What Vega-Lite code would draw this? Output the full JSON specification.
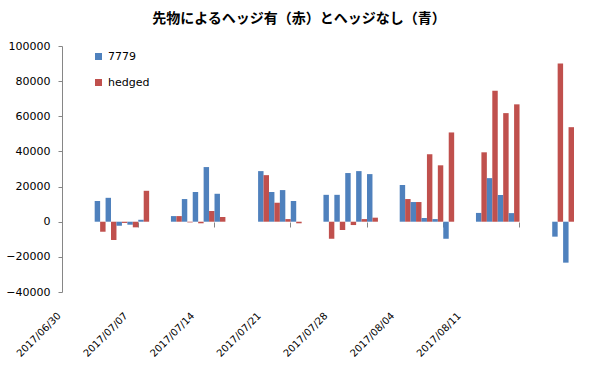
{
  "$schema": "https://vega.github.io/schema/vega-lite/v6.json",
  "width": 512,
  "height": 246,
  "autosize": {"type": "none"},
  "padding": {"left": 62, "top": 46, "right": 22, "bottom": 76},
  "background": "white",
  "title": {"text": "先物によるヘッジ有（赤）とヘッジなし（青）", "font": "Noto Sans CJK JP", "fontSize": 14, "fontWeight": "bold", "color": "black", "anchor": "middle", "dx": -19, "offset": 14},
  "layer": [
    {
      "data": {"values": [
        {"day": "2017-07-03", "series": "7779", "value": 11800}, {"day": "2017-07-03", "series": "hedged", "value": -5700},
        {"day": "2017-07-04", "series": "7779", "value": 13600}, {"day": "2017-07-04", "series": "hedged", "value": -10400},
        {"day": "2017-07-05", "series": "7779", "value": -2300}, {"day": "2017-07-05", "series": "hedged", "value": -700},
        {"day": "2017-07-06", "series": "7779", "value": -1700}, {"day": "2017-07-06", "series": "hedged", "value": -3200},
        {"day": "2017-07-07", "series": "7779", "value": 1100}, {"day": "2017-07-07", "series": "hedged", "value": 17600},
        {"day": "2017-07-10", "series": "7779", "value": 3200}, {"day": "2017-07-10", "series": "hedged", "value": 3200},
        {"day": "2017-07-11", "series": "7779", "value": 12900}, {"day": "2017-07-11", "series": "hedged", "value": -400},
        {"day": "2017-07-12", "series": "7779", "value": 16900}, {"day": "2017-07-12", "series": "hedged", "value": -900},
        {"day": "2017-07-13", "series": "7779", "value": 31100}, {"day": "2017-07-13", "series": "hedged", "value": 6100},
        {"day": "2017-07-14", "series": "7779", "value": 15900}, {"day": "2017-07-14", "series": "hedged", "value": 2700},
        {"day": "2017-07-18", "series": "7779", "value": 28800}, {"day": "2017-07-18", "series": "hedged", "value": 26500},
        {"day": "2017-07-19", "series": "7779", "value": 16900}, {"day": "2017-07-19", "series": "hedged", "value": 10800},
        {"day": "2017-07-20", "series": "7779", "value": 18000}, {"day": "2017-07-20", "series": "hedged", "value": 1500},
        {"day": "2017-07-21", "series": "7779", "value": 11800}, {"day": "2017-07-21", "series": "hedged", "value": -900},
        {"day": "2017-07-24", "series": "7779", "value": 15300}, {"day": "2017-07-24", "series": "hedged", "value": -9700},
        {"day": "2017-07-25", "series": "7779", "value": 15300}, {"day": "2017-07-25", "series": "hedged", "value": -4700},
        {"day": "2017-07-26", "series": "7779", "value": 27700}, {"day": "2017-07-26", "series": "hedged", "value": -1900},
        {"day": "2017-07-27", "series": "7779", "value": 28800}, {"day": "2017-07-27", "series": "hedged", "value": 1500},
        {"day": "2017-07-28", "series": "7779", "value": 27100}, {"day": "2017-07-28", "series": "hedged", "value": 2300},
        {"day": "2017-07-31", "series": "7779", "value": 20900}, {"day": "2017-07-31", "series": "hedged", "value": 12900},
        {"day": "2017-08-01", "series": "7779", "value": 11200}, {"day": "2017-08-01", "series": "hedged", "value": 11200},
        {"day": "2017-08-02", "series": "7779", "value": 2100}, {"day": "2017-08-02", "series": "hedged", "value": 38400},
        {"day": "2017-08-03", "series": "7779", "value": 1500}, {"day": "2017-08-03", "series": "hedged", "value": 32100},
        {"day": "2017-08-04", "series": "7779", "value": -9700}, {"day": "2017-08-04", "series": "hedged", "value": 50800},
        {"day": "2017-08-07", "series": "7779", "value": 5000}, {"day": "2017-08-07", "series": "hedged", "value": 39500},
        {"day": "2017-08-08", "series": "7779", "value": 24800}, {"day": "2017-08-08", "series": "hedged", "value": 74600},
        {"day": "2017-08-09", "series": "7779", "value": 15200}, {"day": "2017-08-09", "series": "hedged", "value": 61800},
        {"day": "2017-08-10", "series": "7779", "value": 4900}, {"day": "2017-08-10", "series": "hedged", "value": 66800},
        {"day": "2017-08-14", "series": "7779", "value": -8500}, {"day": "2017-08-14", "series": "hedged", "value": 90000},
        {"day": "2017-08-15", "series": "7779", "value": -23300}, {"day": "2017-08-15", "series": "hedged", "value": 53800}
      ]},
      "mark": {"type": "bar"},
      "encoding": {
        "x": {
          "field": "day", "type": "ordinal",
          "scale": {
            "domain": ["2017-06-30",
              "2017-07-01","2017-07-02","2017-07-03","2017-07-04","2017-07-05","2017-07-06","2017-07-07","2017-07-08","2017-07-09","2017-07-10",
              "2017-07-11","2017-07-12","2017-07-13","2017-07-14","2017-07-15","2017-07-16","2017-07-17","2017-07-18","2017-07-19","2017-07-20",
              "2017-07-21","2017-07-22","2017-07-23","2017-07-24","2017-07-25","2017-07-26","2017-07-27","2017-07-28","2017-07-29","2017-07-30","2017-07-31",
              "2017-08-01","2017-08-02","2017-08-03","2017-08-04","2017-08-05","2017-08-06","2017-08-07","2017-08-08","2017-08-09","2017-08-10",
              "2017-08-11","2017-08-12","2017-08-13","2017-08-14","2017-08-15"],
            "paddingInner": 0, "paddingOuter": 0
          },
          "axis": {
            "orient": "bottom",
            "values": ["2017-06-30","2017-07-07","2017-07-14","2017-07-21","2017-07-28","2017-08-04","2017-08-11"],
            "labels": false, "domain": false, "grid": false, "title": null,
            "ticks": true, "tickSize": 5, "tickColor": "#868686", "bandPosition": 0, "offset": -70
          }
        },
        "xOffset": {"field": "series", "type": "nominal", "scale": {"domain": ["7779", "hedged"], "paddingInner": 0, "paddingOuter": 0}},
        "y": {
          "field": "value", "type": "quantitative",
          "scale": {"domain": [-40000, 100000], "nice": false, "zero": false},
          "axis": {
            "values": [-40000, -20000, 0, 20000, 40000, 60000, 80000, 100000],
            "tickCount": 20,
            "format": "d", "grid": false, "title": null, "labelOverlap": false,
            "domainColor": "#868686", "tickColor": "#868686", "tickSize": 4,
            "labelPadding": 8, "labelFontSize": 11, "labelColor": "black", "labelFont": "DejaVu Sans"
          }
        },
        "color": {
          "field": "series", "type": "nominal",
          "scale": {"domain": ["7779", "hedged"], "range": ["#4F81BD", "#C0504D"]},
          "legend": {
            "title": null, "orient": "none", "legendX": 31, "legendY": 5,
            "symbolType": "square", "symbolSize": 49, "symbolStrokeWidth": 0,
            "labelFontSize": 11, "labelFont": "DejaVu Sans", "labelColor": "black",
            "rowPadding": 14, "padding": 0, "labelOffset": 4
          }
        }
      }
    },
    {
      "mark": {"type": "rule", "color": "#868686", "strokeWidth": 1},
      "encoding": {"y": {"datum": 0}}
    },
    {
      "data": {"values": [
        {"label": "2017-06-30"}, {"label": "2017-07-07"}, {"label": "2017-07-14"}, {"label": "2017-07-21"},
        {"label": "2017-07-28"}, {"label": "2017-08-04"}, {"label": "2017-08-11"}
      ]},
      "mark": {"type": "point", "opacity": 0},
      "encoding": {
        "x": {
          "field": "label", "type": "temporal",
          "scale": {"domain": [{"year": 2017, "month": 6, "date": 30}, {"year": 2017, "month": 8, "date": 22, "hours": 18, "minutes": 14}]},
          "axis": {
            "orient": "bottom",
            "values": [{"year": 2017, "month": 6, "date": 30}, {"year": 2017, "month": 7, "date": 7}, {"year": 2017, "month": 7, "date": 14}, {"year": 2017, "month": 7, "date": 21}, {"year": 2017, "month": 7, "date": 28}, {"year": 2017, "month": 8, "date": 4}, {"year": 2017, "month": 8, "date": 11}],
            "tickCount": 20,
            "format": "%Y/%m/%d", "labelAngle": -45, "labelAlign": "right", "labelBaseline": "middle",
            "ticks": false, "tickSize": 0, "domain": false, "grid": false, "title": null,
            "labelPadding": 22, "labelOffset": -3, "labelFontSize": 10, "labelColor": "black", "labelFont": "DejaVu Sans",
            "labelOverlap": false, "labelBound": false, "labelFlush": false
          }
        }
      }
    }
  ],
  "resolve": {"scale": {"x": "independent"}, "axis": {"x": "independent"}},
  "config": {"view": {"stroke": null}, "font": "DejaVu Sans"}
}
